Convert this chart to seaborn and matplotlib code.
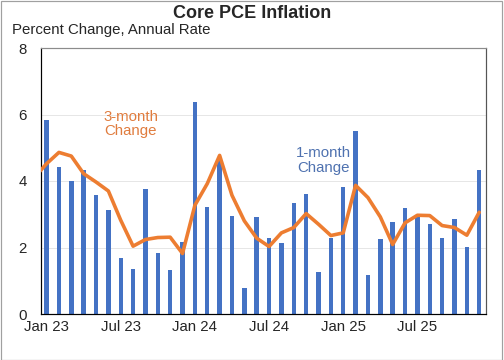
import pandas as pd
import numpy as np
import seaborn as sns
import matplotlib.pyplot as plt
from matplotlib.patches import Rectangle

# Data (monthly, annualized %)
months = pd.date_range("2023-01-01", periods=36, freq="MS")
one_month = [5.83, 4.41, 4.00, 4.33, 3.58, 3.13, 1.67, 1.34, 3.75, 1.83, 1.32, 2.18,
             6.39, 3.21, 4.68, 2.94, 0.77, 2.91, 2.30, 2.13, 3.33, 3.60, 1.26, 2.29,
             3.83, 5.50, 1.16, 2.26, 2.78, 3.20, 2.95, 2.72, 2.29, 2.85, 2.03, 4.33]
# 3-month series starts Dec 22 (clipped at the left edge)
three_month = [4.10,
               4.52, 4.86, 4.75, 4.22, 3.97, 3.70, 2.82, 2.04, 2.24, 2.30, 2.31, 1.82,
               3.27, 3.92, 4.77, 3.57, 2.80, 2.28, 2.03, 2.44, 2.60, 3.02, 2.70, 2.36,
               2.44, 3.87, 3.50, 2.92, 2.09, 2.74, 2.97, 2.96, 2.66, 2.60, 2.37, 3.06]
tick_labels = ["Jan 23", "Jul 23", "Jan 24", "Jul 24", "Jan 25", "Jul 25"]

bar_df = pd.DataFrame({"pos": np.arange(len(months)), "val": one_month})
line_df = pd.DataFrame({"pos": np.arange(-1, len(months)), "val": three_month})

sns.set_style("white")
plt.rcParams["font.family"] = ["Liberation Sans", "DejaVu Sans"]

fig = plt.figure(figsize=(7, 5), dpi=72)
ax = fig.add_axes([41 / 504, 1 - 314 / 360, (486 - 41) / 504, (314 - 48) / 360])

sns.barplot(data=bar_df, x="pos", y="val", native_scale=True, width=0.36,
            color="#4472C4", saturation=1, linewidth=0, ax=ax, zorder=2)
sns.lineplot(data=line_df, x="pos", y="val", color="#ED7D31", linewidth=3.6,
             ax=ax, zorder=3)

ax.set_xlim(-0.45, 35.55)
ax.set_ylim(0, 8)
ax.set_yticks([0, 2, 4, 6, 8])
ax.set_yticklabels(["0", "2", "4", "6", "8"], fontsize=15)
ax.yaxis.grid(True, color="#E6E6E6", linewidth=1, zorder=0)
ax.set_axisbelow(True)

ax.set_xticks(np.arange(0, 36, 6))
ax.set_xticklabels(tick_labels, fontsize=15)
ax.set_xticks(np.arange(5.5, 35, 6), minor=True)
ax.tick_params(axis="x", which="major", length=0, pad=6)
ax.tick_params(axis="x", which="minor", direction="in", length=4, width=1, color="#333333")
ax.tick_params(axis="y", length=0, pad=14)
ax.set_xlabel("")
ax.set_ylabel("")

ax.spines["left"].set_color("#000000")
ax.spines["bottom"].set_color("#000000")
ax.spines["top"].set_color("#8C8C8C")
ax.spines["right"].set_color("#555555")
for s in ax.spines.values():
    s.set_linewidth(1.2)
    s.set_visible(True)

ax.text(6.8, 5.72, "3-month\nChange", color="#E07C3E", fontsize=15,
        ha="center", va="center", linespacing=1.05)
ax.text(22.4, 4.62, "1-month\nChange", color="#4F72B0", fontsize=15,
        ha="center", va="center", linespacing=1.05)

fig.text(0.5, 1 - 13 / 360, "Core PCE Inflation", ha="center", va="center",
         fontsize=18, fontweight="bold")
fig.text(12 / 504, 1 - 30 / 360, "Percent Change, Annual Rate", ha="left",
         va="center", fontsize=15)

fig.patches.append(Rectangle((0.001, 0.001), 0.996, 0.996, transform=fig.transFigure,
                             fill=False, edgecolor="#A0A0A0", linewidth=1.2))

fig.savefig("out.png", dpi=72)
